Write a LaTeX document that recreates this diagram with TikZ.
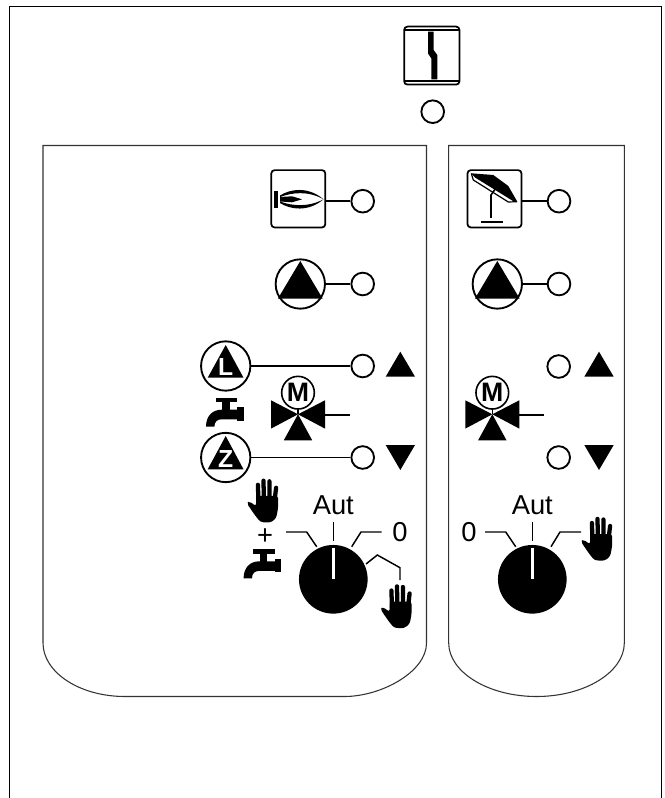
\documentclass[tikz,border=0pt]{standalone}
\usepackage{fontspec}
\setmainfont{Liberation Sans}
\tikzset{
  led/.style={circle,draw,line width=1.4pt,minimum size=17pt,inner sep=0pt,fill=white},
  wire/.style={line width=1.3pt},
  iconbox/.style={rectangle,rounded corners=2.5pt,draw,line width=1.3pt,minimum width=40.5pt,minimum height=43pt,inner sep=0pt},
  pumpring/.style={circle,draw,line width=1.4pt,minimum size=37pt,inner sep=0pt},
  motorring/.style={circle,draw,line width=1.2pt,minimum size=24.5pt,inner sep=0pt,font=\bfseries\fontsize{20}{20}\selectfont},
  knobdisc/.style={circle,fill=black,minimum size=51.5pt,inner sep=0pt},
  panel/.style={line width=0.8pt,draw=black!80},
  scalemark/.style={line width=1.1pt},
  dialtext/.style={inner sep=0pt,font=\fontsize{20.5}{21}\selectfont},
  pumpletter/.style={inner sep=0pt,text=white,font=\bfseries\fontsize{18.5}{19}\selectfont},
  finger/.style={line width=3.2pt,line cap=round},
  pics/hand/.style={code={
    \draw [finger] (12,24) -- (11.4,6.5);
    \draw [finger] (17.4,24) -- (17,2.4);
    \draw [finger] (23,24) -- (22.9,3);
    \draw [finger] (27.6,26) -- (29.6,9.5);
    \fill [rounded corners=2pt] (0.3,25) -- (3,23) -- (9.6,28) -- (9.8,17.5) -- (31.6,17.5) -- (31.6,30) -- (29.6,40) -- (24,44.3) -- (14,43.8) -- (8.5,37) -- cycle;
  }},
  pics/tapicon/.style={code={
    \fill (0,0) rectangle (21.6,4.6);
    \fill (6.5,4.6) rectangle (14,13);
    \fill (21.5,9.7) rectangle (27.8,23);
    \fill (-9.7,29) .. controls (-9.7,18) and (-3,12) .. (6,12) -- (22,12) -- (22,21.6) -- (6,21.6) .. controls (1.5,21.6) and (-1.3,24) .. (-1.3,29) -- cycle;
  }},
  pics/valveicon/.style={code={
    \fill (0,0) -- (-27,-14) -- (-27,14.3) -- cycle;
    \fill (0,0) -- (27,-14) -- (27,14.3) -- cycle;
    \fill (0,0) -- (-14.2,26) -- (14.2,26) -- cycle;
  }}
}
\begin{document}
\begin{tikzpicture}[x=0.75pt,y=0.75pt,yscale=-1,xscale=1]
\useasboundingbox (0,0) rectangle (664,798);
% frame and panels
\draw [line width=0.8pt] (9.5,798) -- (9.5,6.5) -- (661.5,6.5) -- (661.5,798);
\draw [panel] (43,145.5) -- (426.5,145.5) -- (426.5,643) .. controls (426.5,672) and (381,696.5) .. (344.5,696.5) -- (125,696.5) .. controls (79,696.5) and (43,672) .. (43,643) -- cycle;
\draw [panel] (448.7,145.5) -- (624.3,145.5) -- (624.3,643) .. controls (624.3,672) and (585,696.5) .. (536.5,696.5) .. controls (488,696.5) and (448.7,672) .. (448.7,643) -- cycle;
% fault
\node [iconbox,minimum width=41.5pt,minimum height=43.5pt] (boxfault) at (431.8,55.6) {};
\draw [line width=0.9pt] (404.5,30) -- (459,30);
\draw [line width=0.9pt] (404.5,81) -- (459,81);
\fill (428,31.7) -- (433.6,31.7) -- (433.6,50) -- (437.3,55) -- (437.3,79.5) -- (431.4,79.5) -- (431.4,58.5) -- (428,53.5) -- cycle;
\node [led] (ledfault) at (432.7,111.7) {};
% burner
\node [iconbox] (boxburner) at (298.3,198.8) {};
\node [led] (ledburner) at (362.7,201.2) {};
\draw [wire] (boxburner.east |- ledburner) -- (ledburner);
\fill (274.3,191) rectangle (278.3,207.7);
\fill (280,195.5) .. controls (290,189) and (308,186) .. (323.5,199.3) .. controls (308,190.5) and (292,192.5) .. (280,197) -- cycle;
\fill (280,203) .. controls (290,209.5) and (308,212.5) .. (323.5,199.3) .. controls (308,207.5) and (292,206) .. (280,201.5) -- cycle;
\fill (280,197) -- (292,196.3) -- (302,199.3) -- (292,202.3) -- (280,201.5) -- cycle;
% boiler pump
\node [pumpring] (pumpburner) at (300.3,284) {};
\fill (300.3,261) -- (278,298.5) -- (322.6,298.5) -- cycle;
\node [led] (ledpump) at (362.7,284) {};
\draw [wire] (pumpburner) -- (ledpump);
% charge pump
\node [pumpring] (pumpcharge) at (225.7,366) {};
\fill (225.7,345) -- (207.7,377.7) -- (243.5,377.7) -- cycle;
\node [pumpletter] (letterL) at (225.7,367.5) {L};
\node [led] (ledcharge) at (362.7,366) {};
\draw [wire] (pumpcharge) -- (ledcharge);
\fill (400.3,351.7) -- (385.7,376.7) -- (415,376.7) -- cycle;
% circulation pump
\node [pumpring] (pumpcirc) at (225.7,457.5) {};
\fill (225.7,436) -- (207.7,469.3) -- (243.5,469.3) -- cycle;
\node [pumpletter] (letterZ) at (225.7,459) {Z};
\node [led] (ledcirc) at (362.7,457.5) {};
\draw [wire] (pumpcirc) -- (ledcirc);
\fill (385.7,445) -- (415,445) -- (400.3,470) -- cycle;
\pic [transform shape] (tapupper) at (215.7,397.7) {tapicon};
% mixer left
\coordinate (mixleft) at (298,414.3);
\pic [transform shape] (valveleft) at (mixleft) {valveicon};
\node [motorring,fill=white] (motorleft) at (298,392.7) {M};
\draw [line width=1pt] (motorleft) -- (mixleft);
\coordinate (portleft) at (325,414.7);
\coordinate (stubleft) at (350,414.7);
\draw [wire] (portleft) -- (stubleft);
% dial left
\node [knobdisc] (knobleft) at (333.3,579.3) {};
\draw [white,line width=2pt] (knobleft.north) ++(0,3) -- (knobleft.center);
\node [dialtext,anchor=base] (autleft) at (333.3,514) {Aut};
\node [dialtext] (zeroleft) at (400,532.5) {0};
\node [dialtext] (plusleft) at (265,536.7) {+};
\draw [scalemark] (333.3,521.7) -- (333.3,540.7);
\draw [scalemark] (286,532) -- (306.7,532) -- (316.7,546.7);
\draw [scalemark] (381.7,532) -- (361,532) -- (351.7,546.7);
\draw [scalemark] (366,564) -- (377.3,555) -- (400,567.7) -- (400,580);
\pic [transform shape] (handupper) at (246.5,478.3) {hand};
\pic [transform shape] (handlower) at (380,584) {hand};
\pic [transform shape] (taplower) at (253.3,549.3) {tapicon};
% solar
\node [iconbox] (boxsolar) at (494.5,198.8) {};
\node [led] (ledsolar) at (559,201.2) {};
\draw [wire] (boxsolar.east |- ledsolar) -- (ledsolar);
\fill (471,173.3) -- (493.3,175) -- (508.3,186) -- (517.3,201.7) -- (513,201) -- (475,177.5) -- cycle;
\draw [line width=0.9pt,line join=round] (471.3,173.5) -- (473.3,180) -- (508.3,202) -- (517,201.7);
\draw [line width=1.2pt] (491,218) -- (491,195) -- (495,189.3);
\draw [line width=1.2pt] (481,222) -- (502.7,222);
% solar pump
\node [pumpring] (pumpsolar) at (497.3,284) {};
\fill (497.3,261) -- (475,298.5) -- (519.6,298.5) -- cycle;
\node [led] (ledsolarpump) at (559,284) {};
\draw [wire] (pumpsolar) -- (ledsolarpump);
% mixer right
\node [led] (ledopen) at (558.7,366.5) {};
\fill (599,351.7) -- (584.3,376.7) -- (613.7,376.7) -- cycle;
\node [led] (ledclose) at (558.7,457.5) {};
\fill (584.3,445) -- (613.7,445) -- (599,470) -- cycle;
\coordinate (mixright) at (492.3,414.3);
\pic [transform shape] (valveright) at (mixright) {valveicon};
\node [motorring,fill=white] (motorright) at (492.3,392.7) {M};
\draw [line width=1pt] (motorright) -- (mixright);
\coordinate (portright) at (519.3,414.7);
\coordinate (stubright) at (544.3,414.7);
\draw [wire] (portright) -- (stubright);
% dial right
\node [knobdisc] (knobright) at (532.3,579.3) {};
\draw [white,line width=2pt] (knobright.north) ++(0,3) -- (knobright.center);
\node [dialtext,anchor=base] (autright) at (532.3,514) {Aut};
\node [dialtext] (zeroright) at (469,532.5) {0};
\draw [scalemark] (532.3,521.7) -- (532.3,540.7);
\draw [scalemark] (485,532) -- (505.7,532) -- (515.7,546.7);
\draw [scalemark] (581,532) -- (560,532) -- (551,546.7);
\pic [transform shape] (handright) at (580.5,516.5) {hand};
\end{tikzpicture}
\end{document}
